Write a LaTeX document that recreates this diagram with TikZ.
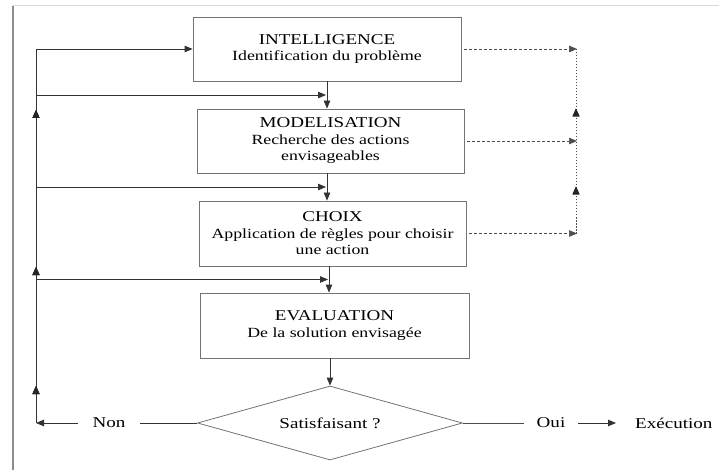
\documentclass[tikz,border=0pt]{standalone}
\usepackage{fontspec}
\usepackage{graphicx}
\setmainfont{Liberation Serif}
\usetikzlibrary{arrows.meta,shapes.geometric,calc,decorations.markings}

% text is set slightly widened throughout
\newcommand{\hstretch}[1]{\scalebox{1.27}[1]{#1}}
\newcommand{\steptitle}[1]{\hstretch{\fontsize{15}{16.5}\selectfont #1}}

\begin{document}
\begin{tikzpicture}[x=1pt,y=-1pt,
  box/.style={draw=black!55, line width=0.8pt, align=center, inner sep=0pt,
    minimum width=268pt, minimum height=64pt,
    font=\fontsize{14}{16.5}\selectfont},
  lbl/.style={font=\fontsize{15}{16.5}\selectfont, inner ysep=0pt},
  link/.style={draw=black!80, line width=0.8pt},
  tip/.style={-{Triangle[length=8pt,width=6.5pt]}},
  dashlink/.style={draw=black!70, line width=0.7pt, dash pattern=on 3pt off 2pt},
  dotlink/.style={draw=black!70, line width=0.7pt, dash pattern=on 1.6pt off 1.4pt},
  midup/.style={postaction={decorate}, decoration={markings,
    mark=at position #1 with {\arrow[black!85]{Triangle[length=8pt,width=7pt]}}}},
]
\useasboundingbox (0,0) rectangle (719,470);

% page border
\draw[black!15, line width=1pt] (13,6) -- (719,6);
\draw[black!45, line width=1.3pt] (13,6) -- (13,470);

% process steps
\node[box] (intel) at (327,49)
  {\steptitle{INTELLIGENCE}\\\hstretch{Identification du problème}};
\node[box, minimum width=267pt] (model) at (330.5,141)
  {\steptitle{MODELISATION}\\\hstretch{Recherche des actions}\\\hstretch{envisageables}};
\node[box, minimum width=267pt, minimum height=65pt] (choix) at (332.5,233.5)
  {\steptitle{CHOIX}\\\hstretch{Application de règles pour choisir}\\\hstretch{une action}};
\node[box, minimum width=269pt, minimum height=65pt] (eval) at (334.5,325.5)
  {\steptitle{EVALUATION}\\\hstretch{De la solution envisagée}};
\node[draw=black!55, line width=0.8pt, diamond, aspect=3.58, inner sep=0pt,
  minimum width=265pt, minimum height=74pt, font=\fontsize{15}{16.5}\selectfont]
  (sat) at (330,423) {\hstretch{Satisfaisant ?}};

% outcome labels
\node[lbl, inner xsep=14pt] (non) at (109,423) {\hstretch{Non}};
\node[lbl, inner xsep=12.5pt] (oui) at (551,423) {\hstretch{Oui}};
\node[lbl, anchor=west, inner xsep=0pt] (exec) at (635,423) {\hstretch{Exécution}};

% main flow
\coordinate (c3) at (329,0);
\draw[link,tip] (intel.south) -- (intel.south |- model.north);
\draw[link,tip] (model.south -| intel.south) -- (intel.south |- choix.north);
\draw[link,tip] (choix.south -| c3) -- (eval.north -| c3);
\draw[link,tip] (eval.south -| sat.north) -- (sat.north);

% feedback loop on the left
\coordinate (lx) at (36,0);
\coordinate (m1) at ($(intel.south)!0.5!(intel.south |- model.north)$);
\coordinate (m2) at ($(model.south -| intel.south)!0.5!(intel.south |- choix.north)$);
\coordinate (m3) at ($(choix.south -| c3)!0.5!(eval.north -| c3)$);
\coordinate (corner) at (sat.west -| lx);
\coordinate (top) at (intel.west -| lx);

\draw[link] (sat.west) -- (non.east);
\draw[link,tip] (non.west) -- (corner);
\draw[link, midup=37pt, midup=156pt, midup=313pt] (corner) -- (top);
\draw[link,tip] (top) -- (intel.west);
\draw[link,tip] (m1 -| lx) -- ([xshift=-1pt]m1);
\draw[link,tip] (m2 -| lx) -- ([xshift=-1pt]m2);
\draw[link,tip] (m3 -| lx) -- ([xshift=-1pt]m3);

% success path
\draw[link, draw=black!70] (sat.east) -- (oui.west);
\draw[link,tip] (oui.east) -- ([xshift=-19pt]exec.west);

% dashed returns on the right
\coordinate (rx) at (577,0);
\draw[dashlink,tip] ([xshift=3pt]intel.east) -- (intel.east -| rx);
\draw[dashlink,tip] ([xshift=3pt]model.east) -- (model.east -| rx);
\draw[dashlink,tip] ([xshift=3pt]choix.east) -- (choix.east -| rx);
\draw[dotlink, midup=47pt, midup=125pt] ([xshift=-1pt]choix.east -| rx) -- ([xshift=-1pt]intel.east -| rx);
\end{tikzpicture}
\end{document}
